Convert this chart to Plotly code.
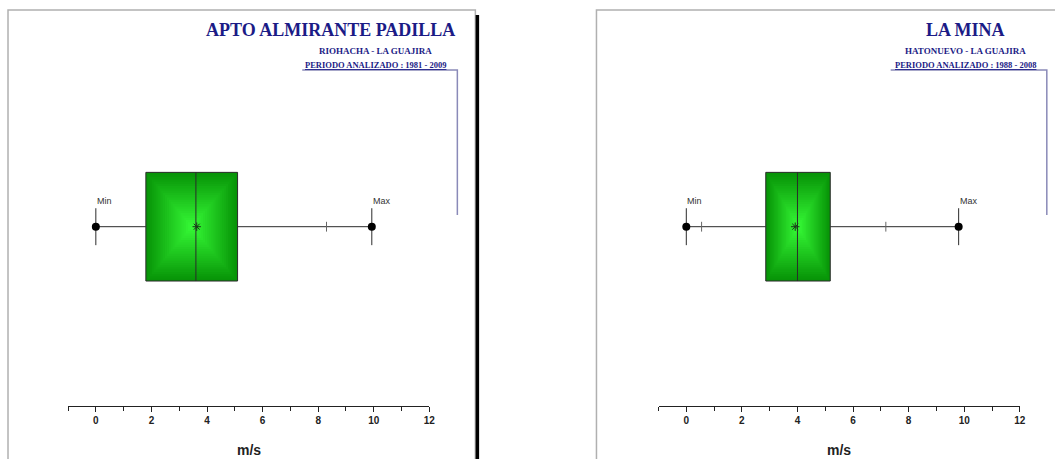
import plotly.graph_objects as go

# ---- data -------------------------------------------------------------
stations = ["APTO ALMIRANTE PADILLA", "LA MINA"]
places = ["RIOHACHA - LA GUAJIRA", "HATONUEVO - LA GUAJIRA"]
periods = ["PERIODO ANALIZADO : 1981 - 2009", "PERIODO ANALIZADO : 1988 - 2008"]

wind_min = [0.0, 0.0]
wind_q1 = [1.8, 2.86]
wind_median = [3.6, 4.0]
wind_mean = [3.63, 3.92]
wind_q3 = [5.1, 5.18]
wind_max = [9.93, 9.8]
# percentile marks drawn on the whiskers
whisker_marks = [[8.3], [0.55, 7.18]]

tick_vals = [0, 2, 4, 6, 8, 10, 12]
axis_unit = "m/s"

# ---- layout helpers ---------------------------------------------------
W, H = 1055, 459
X_CAL = 1.0065   # horizontal calibration of pixel positions


def px(x):
    return min(1.02, x * X_CAL / W)


def py(y):
    return 1 - y / H


NAVY = "#1b1b86"
BRACKET = "#8a8ab8"

panel_x = [(68, 429), (658, 1019)]   # pixel extent of each x axis
frame_x = [(8, 475), (596, 1070)]
title_x = [330, 965]
sub_x = [375, 965]
bracket = [(302, 457), (890, 1046)]

fig = go.Figure()
shapes = []
annotations = []

for i in range(2):
    n = i + 1
    xa = "x" if n == 1 else f"x{n}"
    ya = "y" if n == 1 else f"y{n}"

    # box with whiskers, median and mean
    fig.add_trace(go.Box(
        x0=0, y0=0, orientation="h",
        q1=[wind_q1[i]], median=[wind_median[i]], q3=[wind_q3[i]],
        lowerfence=[wind_min[i]], upperfence=[wind_max[i]],
        mean=[wind_mean[i]], boxmean=False,
        width=1, whiskerwidth=0.34,
        fillcolor="rgba(0,0,0,0)",
        line=dict(color="#2b2b2b", width=1),
        hoverinfo="skip", showlegend=False,
        xaxis=xa, yaxis=ya,
    ))
    # mean marker
    fig.add_trace(go.Scatter(
        x=[wind_mean[i]], y=[0], mode="markers",
        marker=dict(symbol="asterisk-open", size=7, color="#1a3a1a",
                    line=dict(color="#1a3a1a", width=1)),
        showlegend=False, hoverinfo="skip", xaxis=xa, yaxis=ya,
    ))
    # whisker percentile ticks
    fig.add_trace(go.Scatter(
        x=whisker_marks[i], y=[0] * len(whisker_marks[i]), mode="markers",
        marker=dict(symbol="line-ns-open", size=7, color="#666666",
                    line=dict(color="#666666", width=1)),
        showlegend=False, hoverinfo="skip", xaxis=xa, yaxis=ya,
    ))
    # min / max dots
    fig.add_trace(go.Scatter(
        x=[wind_min[i], wind_max[i]], y=[0, 0], mode="markers",
        marker=dict(symbol="circle", size=8, color="black"),
        showlegend=False, hoverinfo="skip", xaxis=xa, yaxis=ya,
    ))
    for lbl, val in (("Min", wind_min[i]), ("Max", wind_max[i])):
        annotations.append(dict(
            x=val, y=0.17, xref=xa, yref=ya, text=lbl, showarrow=False,
            xanchor="left", yanchor="bottom", xshift=-1,
            font=dict(family="Liberation Sans Narrow, Liberation Sans, Arial",
                      size=9, color="#333333"),
        ))

    # rectangular green gradient inside the box
    steps = 24
    mid_x = (wind_q1[i] + wind_q3[i]) / 2
    half_x = (wind_q3[i] - wind_q1[i]) / 2
    dark = (8, 148, 8)
    bright = (55, 252, 55)
    for s in range(steps):
        t = s / steps
        c = tuple(int(dark[k] + (bright[k] - dark[k]) * t) for k in range(3))
        shapes.append(dict(
            type="rect", xref=xa, yref=ya, layer="below",
            x0=mid_x - half_x * (1 - t), x1=mid_x + half_x * (1 - t),
            y0=-0.5 * (1 - t), y1=0.5 * (1 - t),
            line=dict(width=0), fillcolor=f"rgb{c}",
        ))

    # axes
    x0p, x1p = panel_x[i]
    fig.update_layout({
        ("xaxis" if n == 1 else f"xaxis{n}"): dict(
            domain=[px(x0p), px(x1p)], range=[-1, 12], anchor=ya,
            showline=True, linecolor="#222222", linewidth=1,
            showgrid=False, zeroline=False,
            ticks="outside", ticklen=5, tickcolor="#222222",
            tickvals=tick_vals,
            minor=dict(dtick=1, tick0=0, ticks="outside", ticklen=4,
                       tickcolor="#222222", showgrid=False),
            tickfont=dict(family="Liberation Sans, Arial", size=10,
                          color="#222222", weight="bold"),
            fixedrange=True,
        ),
        ("yaxis" if n == 1 else f"yaxis{n}"): dict(
            domain=[py(406), py(80)], range=[-1.65, 1.35], anchor=xa,
            visible=False, fixedrange=True,
        ),
    })

    # axis unit
    annotations.append(dict(
        x=px((x0p + x1p) / 2), y=py(450), xref="paper", yref="paper",
        xanchor="center", yanchor="middle",
        text=f"<b>{axis_unit}</b>", showarrow=False,
        font=dict(family="Liberation Sans, Arial", size=14, color="#222222"),
    ))

    # panel frame
    fx0, fx1 = frame_x[i]
    shapes.append(dict(
        type="rect", xref="paper", yref="paper",
        x0=px(fx0), x1=px(fx1), y0=py(470), y1=py(10),
        line=dict(color="#b0b0b0", width=1.5), fillcolor="rgba(0,0,0,0)",
    ))

    # headings
    annotations.append(dict(
        x=px(title_x[i]), y=py(30), xref="paper", yref="paper",
        xanchor="center", yanchor="middle",
        text=f"<b>{stations[i]}</b>", showarrow=False,
        font=dict(family="Liberation Serif, DejaVu Serif", size=18, color=NAVY),
    ))
    annotations.append(dict(
        x=px(sub_x[i]), y=py(51), xref="paper", yref="paper",
        xanchor="center", yanchor="middle",
        text=f"<b>{places[i]}</b>", showarrow=False,
        font=dict(family="Liberation Serif, DejaVu Serif", size=9, color=NAVY),
    ))
    annotations.append(dict(
        x=px(sub_x[i]), y=py(65), xref="paper", yref="paper",
        xanchor="center", yanchor="middle",
        text=f"<b><u>{periods[i]}</u></b>", showarrow=False,
        font=dict(family="Liberation Serif, DejaVu Serif", size=8.5, color=NAVY),
    ))

    # bracket from the period line down the right side
    bx0, bx1 = bracket[i]
    shapes.append(dict(
        type="path", xref="paper", yref="paper",
        path=f"M {px(bx0)},{py(70)} L {px(bx1)},{py(70)} L {px(bx1)},{py(215)}",
        line=dict(color=BRACKET, width=1.5),
    ))

# shadow edge of the left panel
shapes.append(dict(
    type="line", xref="paper", yref="paper",
    x0=px(477), x1=px(477), y0=py(15), y1=py(470),
    line=dict(color="black", width=3.5),
))

fig.update_layout(
    width=W, height=H,
    margin=dict(l=0, r=0, t=0, b=0),
    paper_bgcolor="white", plot_bgcolor="rgba(0,0,0,0)",
    shapes=shapes, annotations=annotations,
    showlegend=False,
)

fig.write_html("out.html")
